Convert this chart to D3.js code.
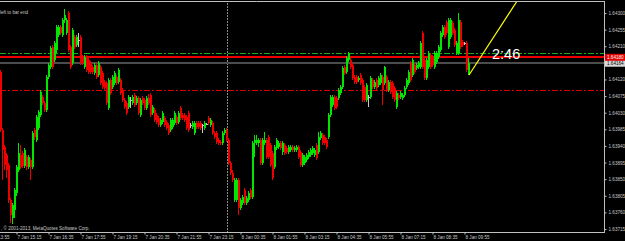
<!DOCTYPE html>
<html>
<head>
<meta charset="utf-8">
<script src="https://cdnjs.cloudflare.com/ajax/libs/d3/7.8.5/d3.min.js"></script>
<style>
html, body { margin: 0; padding: 0; background: #000; overflow: hidden; }
svg { display: block; }
</style>
</head>
<body>
<div id="chart"></div>
<script>
// M5 bars, one every 5 minutes from firstBarTime
var firstBarTime = '7 Jan 14:35';
var barMinutes = 5;

var openPrices = [
 1.64140,1.63983,1.63937,1.63915,1.63888,1.63793,1.63745,1.63766,1.63812,1.63875,
 1.63915,1.63921,1.63885,1.63910,1.63883,1.63902,1.63883,1.63983,1.63956,1.63988,
 1.64024,1.64072,1.64056,1.64037,1.64127,1.64154,1.64208,1.64173,1.64200,1.64240,
 1.64262,1.64240,1.64281,1.64246,1.64300,1.64208,1.64164,1.64235,1.64213,1.64227,
 1.64235,1.64181,1.64154,1.64181,1.64173,1.64164,1.64154,1.64137,1.64159,1.64132,
 1.64154,1.64137,1.64113,1.64110,1.64043,1.64118,1.64099,1.64110,1.64127,1.64113,
 1.64118,1.64091,1.64064,1.64056,1.64045,1.64064,1.64056,1.64078,1.64056,1.64070,
 1.64024,1.64070,1.64064,1.64043,1.64070,1.64078,1.64029,1.64037,1.64024,1.64016,
 1.63997,1.64005,1.64016,1.64005,1.63997,1.63983,1.63991,1.64002,1.64018,1.64005,
 1.64043,1.64024,1.64024,1.64018,1.64029,1.63997,1.63991,1.63975,1.64002,1.64002,
 1.64002,1.63997,1.63988,1.63999,1.64016,1.63997,1.64002,1.63975,1.63975,1.63956,
 1.63950,1.63948,1.63975,1.63983,1.63956,1.63894,1.63867,1.63793,1.63793,1.63848,
 1.63772,1.63785,1.63820,1.63785,1.63793,1.63820,1.63802,1.63948,1.63948,1.63948,
 1.63956,1.63894,1.63948,1.63956,1.63964,1.63942,1.63921,1.63883,1.63934,1.63937,
 1.63948,1.63923,1.63942,1.63934,1.63923,1.63929,1.63937,1.63929,1.63929,1.63937,
 1.63923,1.63888,1.63894,1.63902,1.63910,1.63915,1.63921,1.63915,1.63942,1.63923,
 1.63961,1.63969,1.63964,1.63956,1.63964,1.64024,1.64051,1.64072,1.64070,1.64070,
 1.64083,1.64099,1.64154,1.64140,1.64173,1.64173,1.64159,1.64127,1.64127,1.64118,
 1.64132,1.64118,1.64099,1.64064,1.64072,1.64072,1.64118,1.64099,1.64118,1.64105,
 1.64110,1.64127,1.64110,1.64127,1.64091,1.64113,1.64110,1.64097,1.64045,1.64078,
 1.64072,1.64070,1.64078,1.64099,1.64110,1.64164,1.64132,1.64159,1.64151,1.64154,
 1.64154,1.64246,1.64173,1.64124,1.64154,1.64186,1.64181,1.64154,1.64167,1.64181,
 1.64200,1.64240,1.64262,1.64275,1.64208,1.64235,1.64273,1.64254,1.64191,1.64191,
 1.64275,1.64221,1.64219,1.64219,1.64132
];
var highPrices = [
 1.64145,1.63988,1.63942,1.63921,1.63894,1.63799,1.63785,1.63826,1.63888,1.63948,
 1.63942,1.63926,1.63934,1.63915,1.63915,1.63907,1.63980,1.63988,1.64024,1.64037,
 1.64091,1.64078,1.64062,1.64132,1.64164,1.64210,1.64213,1.64224,1.64267,1.64267,
 1.64267,1.64286,1.64311,1.64286,1.64305,1.64213,1.64259,1.64240,1.64240,1.64246,
 1.64240,1.64186,1.64186,1.64186,1.64178,1.64170,1.64159,1.64164,1.64164,1.64170,
 1.64159,1.64143,1.64118,1.64116,1.64124,1.64124,1.64132,1.64143,1.64132,1.64151,
 1.64124,1.64097,1.64070,1.64062,1.64078,1.64072,1.64078,1.64083,1.64075,1.64075,
 1.64070,1.64075,1.64070,1.64075,1.64080,1.64083,1.64051,1.64043,1.64029,1.64021,
 1.64016,1.64035,1.64021,1.64010,1.64002,1.64016,1.64016,1.64035,1.64024,1.64035,
 1.64048,1.64029,1.64029,1.64024,1.64035,1.64002,1.64007,1.64007,1.64007,1.64007,
 1.64007,1.63999,1.64007,1.64002,1.64021,1.64016,1.64007,1.63980,1.63980,1.63961,
 1.63956,1.63980,1.63988,1.63988,1.63961,1.63899,1.63875,1.63853,1.63853,1.63853,
 1.63799,1.63807,1.63826,1.63804,1.63818,1.63826,1.63953,1.63969,1.63969,1.63961,
 1.63961,1.63961,1.63978,1.63961,1.63969,1.63948,1.63926,1.63942,1.63961,1.63953,
 1.63953,1.63953,1.63948,1.63940,1.63942,1.63942,1.63942,1.63940,1.63942,1.63942,
 1.63929,1.63921,1.63915,1.63921,1.63929,1.63934,1.63940,1.63934,1.63948,1.63978,
 1.63980,1.63975,1.63969,1.63961,1.64029,1.64078,1.64078,1.64078,1.64075,1.64097,
 1.64105,1.64156,1.64159,1.64183,1.64194,1.64178,1.64164,1.64132,1.64132,1.64129,
 1.64137,1.64124,1.64105,1.64110,1.64078,1.64129,1.64124,1.64118,1.64124,1.64129,
 1.64137,1.64132,1.64156,1.64132,1.64118,1.64118,1.64116,1.64102,1.64089,1.64083,
 1.64089,1.64083,1.64102,1.64124,1.64145,1.64170,1.64178,1.64164,1.64164,1.64170,
 1.64224,1.64251,1.64178,1.64178,1.64197,1.64191,1.64186,1.64197,1.64197,1.64213,
 1.64251,1.64267,1.64267,1.64281,1.64286,1.64286,1.64278,1.64259,1.64224,1.64300,
 1.64281,1.64227,1.64221,1.64224,1.64178
];
var lowPrices = [
 1.63978,1.63848,1.63875,1.63853,1.63785,1.63731,1.63728,1.63745,1.63804,1.63869,
 1.63877,1.63880,1.63880,1.63875,1.63877,1.63848,1.63877,1.63956,1.63950,1.63983,
 1.64018,1.64051,1.64032,1.64032,1.64121,1.64148,1.64148,1.64167,1.64191,1.64235,
 1.64240,1.64235,1.64273,1.64240,1.64194,1.64148,1.64159,1.64202,1.64208,1.64208,
 1.64159,1.64159,1.64148,1.64140,1.64135,1.64135,1.64135,1.64132,1.64121,1.64127,
 1.64105,1.64094,1.64091,1.64051,1.64037,1.64078,1.64094,1.64105,1.64105,1.64108,
 1.64078,1.64059,1.64040,1.64024,1.64040,1.64043,1.64051,1.64045,1.64051,1.64024,
 1.64018,1.64051,1.64037,1.64037,1.64051,1.64018,1.64024,1.64005,1.63999,1.63991,
 1.63991,1.63999,1.63991,1.63983,1.63969,1.63978,1.63986,1.63997,1.63997,1.63999,
 1.64010,1.64010,1.64005,1.63983,1.63978,1.63988,1.63986,1.63969,1.63986,1.63986,
 1.63983,1.63975,1.63983,1.63997,1.63997,1.63991,1.63969,1.63959,1.63945,1.63942,
 1.63942,1.63942,1.63969,1.63950,1.63888,1.63861,1.63842,1.63788,1.63788,1.63753,
 1.63766,1.63780,1.63780,1.63780,1.63788,1.63796,1.63796,1.63910,1.63942,1.63937,
 1.63888,1.63888,1.63942,1.63904,1.63904,1.63883,1.63848,1.63877,1.63929,1.63932,
 1.63929,1.63915,1.63915,1.63918,1.63918,1.63923,1.63923,1.63923,1.63923,1.63904,
 1.63883,1.63883,1.63888,1.63896,1.63904,1.63910,1.63915,1.63910,1.63902,1.63918,
 1.63956,1.63942,1.63942,1.63932,1.63959,1.64018,1.64045,1.64037,1.64040,1.64064,
 1.64078,1.64094,1.64132,1.64135,1.64167,1.64148,1.64118,1.64108,1.64108,1.64113,
 1.64105,1.64059,1.64059,1.64059,1.64045,1.64067,1.64094,1.64094,1.64091,1.64099,
 1.64105,1.64051,1.64105,1.64086,1.64086,1.64080,1.64067,1.64059,1.64040,1.64064,
 1.64067,1.64064,1.64072,1.64094,1.64105,1.64113,1.64127,1.64135,1.64145,1.64148,
 1.64148,1.64148,1.64118,1.64118,1.64148,1.64148,1.64154,1.64148,1.64162,1.64175,
 1.64194,1.64235,1.64229,1.64240,1.64202,1.64229,1.64240,1.64208,1.64186,1.64186,
 1.64202,1.64208,1.64213,1.64140,1.64132
];
var closePrices = [
 1.63983,1.63929,1.63888,1.63875,1.63793,1.63753,1.63780,1.63820,1.63883,1.63921,
 1.63883,1.63885,1.63929,1.63883,1.63910,1.63883,1.63975,1.63964,1.64018,1.64032,
 1.64086,1.64056,1.64037,1.64127,1.64159,1.64205,1.64154,1.64219,1.64262,1.64262,
 1.64246,1.64281,1.64294,1.64281,1.64200,1.64154,1.64254,1.64208,1.64235,1.64227,
 1.64164,1.64164,1.64181,1.64145,1.64140,1.64140,1.64140,1.64159,1.64127,1.64164,
 1.64110,1.64099,1.64097,1.64056,1.64118,1.64083,1.64127,1.64137,1.64110,1.64145,
 1.64083,1.64064,1.64045,1.64029,1.64072,1.64064,1.64072,1.64051,1.64070,1.64029,
 1.64064,1.64056,1.64043,1.64070,1.64056,1.64024,1.64045,1.64010,1.64005,1.63997,
 1.64010,1.64029,1.63997,1.63988,1.63975,1.64010,1.64010,1.64029,1.64002,1.64029,
 1.64016,1.64016,1.64010,1.63988,1.63983,1.63997,1.64002,1.64002,1.63991,1.63991,
 1.63988,1.63997,1.64002,1.63999,1.64002,1.64010,1.63975,1.63964,1.63950,1.63948,
 1.63948,1.63975,1.63983,1.63956,1.63894,1.63867,1.63848,1.63848,1.63848,1.63772,
 1.63793,1.63802,1.63785,1.63799,1.63812,1.63802,1.63948,1.63956,1.63956,1.63956,
 1.63894,1.63956,1.63956,1.63910,1.63910,1.63888,1.63853,1.63937,1.63956,1.63948,
 1.63934,1.63948,1.63921,1.63923,1.63937,1.63937,1.63929,1.63934,1.63937,1.63910,
 1.63888,1.63915,1.63910,1.63915,1.63923,1.63929,1.63934,1.63929,1.63907,1.63964,
 1.63975,1.63948,1.63948,1.63937,1.64024,1.64072,1.64072,1.64043,1.64045,1.64091,
 1.64099,1.64151,1.64137,1.64178,1.64191,1.64154,1.64124,1.64113,1.64113,1.64124,
 1.64110,1.64064,1.64064,1.64105,1.64072,1.64124,1.64099,1.64113,1.64097,1.64124,
 1.64132,1.64091,1.64154,1.64091,1.64113,1.64086,1.64072,1.64064,1.64083,1.64070,
 1.64083,1.64078,1.64097,1.64118,1.64140,1.64118,1.64173,1.64140,1.64159,1.64164,
 1.64219,1.64154,1.64124,1.64173,1.64191,1.64154,1.64159,1.64191,1.64191,1.64208,
 1.64246,1.64262,1.64235,1.64246,1.64281,1.64281,1.64246,1.64213,1.64219,1.64281,
 1.64208,1.64213,1.64219,1.64145,1.64164
];

var priceTicks = [1.64300, 1.64255, 1.64210, 1.64120, 1.64075, 1.64030, 1.63985,
                  1.63940, 1.63895, 1.63850, 1.63805, 1.63760, 1.63715];
var timeTicks = ['7 Jan 13:55', '7 Jan 15:15', '7 Jan 16:35', '7 Jan 17:55', '7 Jan 19:15',
                 '7 Jan 20:35', '7 Jan 21:55', '7 Jan 23:15', '8 Jan 00:35', '8 Jan 01:55',
                 '8 Jan 03:15', '8 Jan 04:35', '8 Jan 05:55', '8 Jan 07:15', '8 Jan 08:35',
                 '8 Jan 09:55'];
var daySeparator = '8 Jan 00:00';

// horizontal levels
var greenDashLevel = 1.64191;
var redLineLevel = 1.64180;
var bidLevel = 1.64164;
var redDashLevel = 1.64091;

// trend line (time, price)
var trendLine = [['8 Jan 10:05', 1.64132], ['8 Jan 12:05', 1.64332]];
var timerText = '2:46';

// Constant
const width = 625;
const height = 241;
const plotRight = 604;
const plotTop = 1;
const plotBottom = 232;
const bullColor = '#00e600';
const bearColor = '#ee0000';
const dojiColor = '#c8c8c8';
const axisColor = '#c0c0c0';
const textColor = '#c8c8c8';
const smallFont = '4.6px';
const fontFamily = '"Liberation Sans", Arial, sans-serif';

const parseTime = d3.timeParse('%d %b %H:%M');
const t0 = parseTime(firstBarTime);
const barTime = i => new Date(t0.getTime() + i * barMinutes * 60000);

const xScale = d3.scaleTime()
    .domain([t0, barTime(1)])
    .range([0, 2]);
const yScale = d3.scaleLinear()
    .domain([1.63715, 1.64300])
    .range([229, 13]);

const bars = openPrices.map((o, i) => ({
    t: barTime(i), o: o, h: highPrices[i], l: lowPrices[i], c: closePrices[i]
}));

const svg = d3.select('#chart')
    .append('svg')
        .attr('width', width)
        .attr('height', height)
        .style('background', '#000');

const defs = svg.append('defs');
defs.append('clipPath').attr('id', 'plotClip')
    .append('rect')
        .attr('x', 0).attr('y', plotTop + 1)
        .attr('width', plotRight).attr('height', plotBottom - plotTop - 1);

const plot = svg.append('g').attr('clip-path', 'url(#plotClip)');

// period separator
plot.append('line')
    .attr('x1', xScale(parseTime(daySeparator)) + 1.5)
    .attr('x2', xScale(parseTime(daySeparator)) + 1.5)
    .attr('y1', 0)
    .attr('y2', plotBottom)
    .attr('stroke', '#8a8a8a')
    .attr('stroke-width', 1)
    .attr('stroke-dasharray', '2,1');

// horizontal levels
const level = (p, color, dash, w) => plot.append('line')
    .attr('x1', 0).attr('x2', plotRight)
    .attr('y1', Math.round(yScale(p)) + (w % 2 ? 0.5 : 0))
    .attr('y2', Math.round(yScale(p)) + (w % 2 ? 0.5 : 0))
    .attr('stroke', color)
    .attr('stroke-width', w)
    .attr('stroke-dasharray', dash)
    .attr('shape-rendering', 'crispEdges');

level(bidLevel, '#4c4c4c', null, 2);
level(greenDashLevel, '#18b018', '6,2,2,2', 1);
level(redLineLevel, '#ee0000', null, 2);
level(redDashLevel, '#dd0000', '6,2,2,2', 1);

// candles
const candleColor = d => d.c > d.o ? bullColor : (d.c < d.o ? bearColor : dojiColor);

plot.selectAll('.wick')
    .data(bars)
    .enter()
    .append('rect')
        .attr('class', 'wick')
        .attr('x', d => xScale(d.t))
        .attr('y', d => Math.round(yScale(d.h)))
        .attr('width', 1)
        .attr('height', d => Math.max(1, Math.round(yScale(d.l)) - Math.round(yScale(d.h))))
        .attr('fill', candleColor)
        .attr('shape-rendering', 'crispEdges');

plot.selectAll('.body')
    .data(bars)
    .enter()
    .append('rect')
        .attr('class', 'body')
        .attr('x', d => xScale(d.t))
        .attr('y', d => Math.round(yScale(Math.max(d.o, d.c))))
        .attr('width', 2)
        .attr('height', d => Math.max(1, Math.round(yScale(Math.min(d.o, d.c))) - Math.round(yScale(Math.max(d.o, d.c)))))
        .attr('fill', candleColor)
        .attr('shape-rendering', 'crispEdges');

// yellow trend line
plot.append('line')
    .attr('x1', xScale(parseTime(trendLine[0][0])) + 1)
    .attr('y1', yScale(trendLine[0][1]))
    .attr('x2', xScale(parseTime(trendLine[1][0])) + 1)
    .attr('y2', yScale(trendLine[1][1]))
    .attr('stroke', '#ffff00')
    .attr('stroke-width', 1.2);

// countdown
svg.append('text')
    .attr('x', 492)
    .attr('y', 58.5)
    .style('font-size', '14.5px')
    .style('font-family', fontFamily)
    .attr('fill', '#ffffff')
    .text(timerText);

// frame
svg.append('line').attr('x1', 0).attr('x2', plotRight + 0.5).attr('y1', plotTop + 0.5).attr('y2', plotTop + 0.5)
    .attr('stroke', axisColor);
svg.append('line').attr('x1', 0).attr('x2', plotRight + 0.5).attr('y1', plotBottom + 0.5).attr('y2', plotBottom + 0.5)
    .attr('stroke', axisColor);
svg.append('line').attr('x1', plotRight + 0.5).attr('x2', plotRight + 0.5).attr('y1', plotTop).attr('y2', plotBottom + 1)
    .attr('stroke', axisColor);

// price axis
const yAxis = svg.append('g')
    .attr('transform', `translate(${plotRight + 0.5},0)`)
    .call(d3.axisRight(yScale)
        .tickValues(priceTicks)
        .tickSize(2)
        .tickPadding(2)
        .tickFormat(d3.format('.5f')));
yAxis.select('.domain').remove();
yAxis.selectAll('line').attr('stroke', axisColor);
yAxis.selectAll('text')
    .attr('fill', textColor)
    .style('font-size', smallFont)
    .style('font-family', fontFamily);

// time axis
const xAxis = svg.append('g')
    .attr('transform', `translate(0,${plotBottom + 0.5})`)
    .call(d3.axisBottom(xScale)
        .tickValues(timeTicks.map(parseTime))
        .tickSize(2)
        .tickFormat(d3.timeFormat('%-d %b %H:%M')));
xAxis.select('.domain').remove();
xAxis.selectAll('.tick').attr('transform', d => `translate(${xScale(d) + 1},0)`);
xAxis.selectAll('line').attr('stroke', axisColor);
xAxis.selectAll('text')
    .attr('fill', textColor)
    .attr('y', 3)
    .attr('dy', '0.71em')
    .attr('x', 0.5)
    .style('text-anchor', 'start')
    .style('font-size', smallFont)
    .style('font-family', fontFamily);

// price labels on the axis
const axisLabel = (p, bg, fg) => {
    const y = yScale(p);
    svg.append('rect')
        .attr('x', plotRight + 1).attr('y', y - 3.5)
        .attr('width', width - plotRight - 1).attr('height', 7)
        .attr('fill', bg);
    svg.append('text')
        .attr('x', plotRight + 3).attr('y', y)
        .attr('dy', '0.35em')
        .style('font-size', smallFont)
        .style('font-family', fontFamily)
        .attr('fill', fg)
        .text(d3.format('.5f')(p));
};
axisLabel(bidLevel, '#d8d8d8', '#000');
axisLabel(redLineLevel, '#e00000', '#fff');

// corner texts
svg.append('text')
    .attr('x', 28).attr('y', 14)
    .style('text-anchor', 'end')
    .style('font-size', smallFont)
    .style('font-family', fontFamily)
    .attr('fill', textColor)
    .text('Time left to bar end');

svg.append('text')
    .attr('x', 1).attr('y', 230)
    .style('font-size', smallFont)
    .style('font-family', fontFamily)
    .attr('fill', textColor)
    .text(', \u00a9 2001-2013, MetaQuotes Software Corp.');
</script>
</body>
</html>
